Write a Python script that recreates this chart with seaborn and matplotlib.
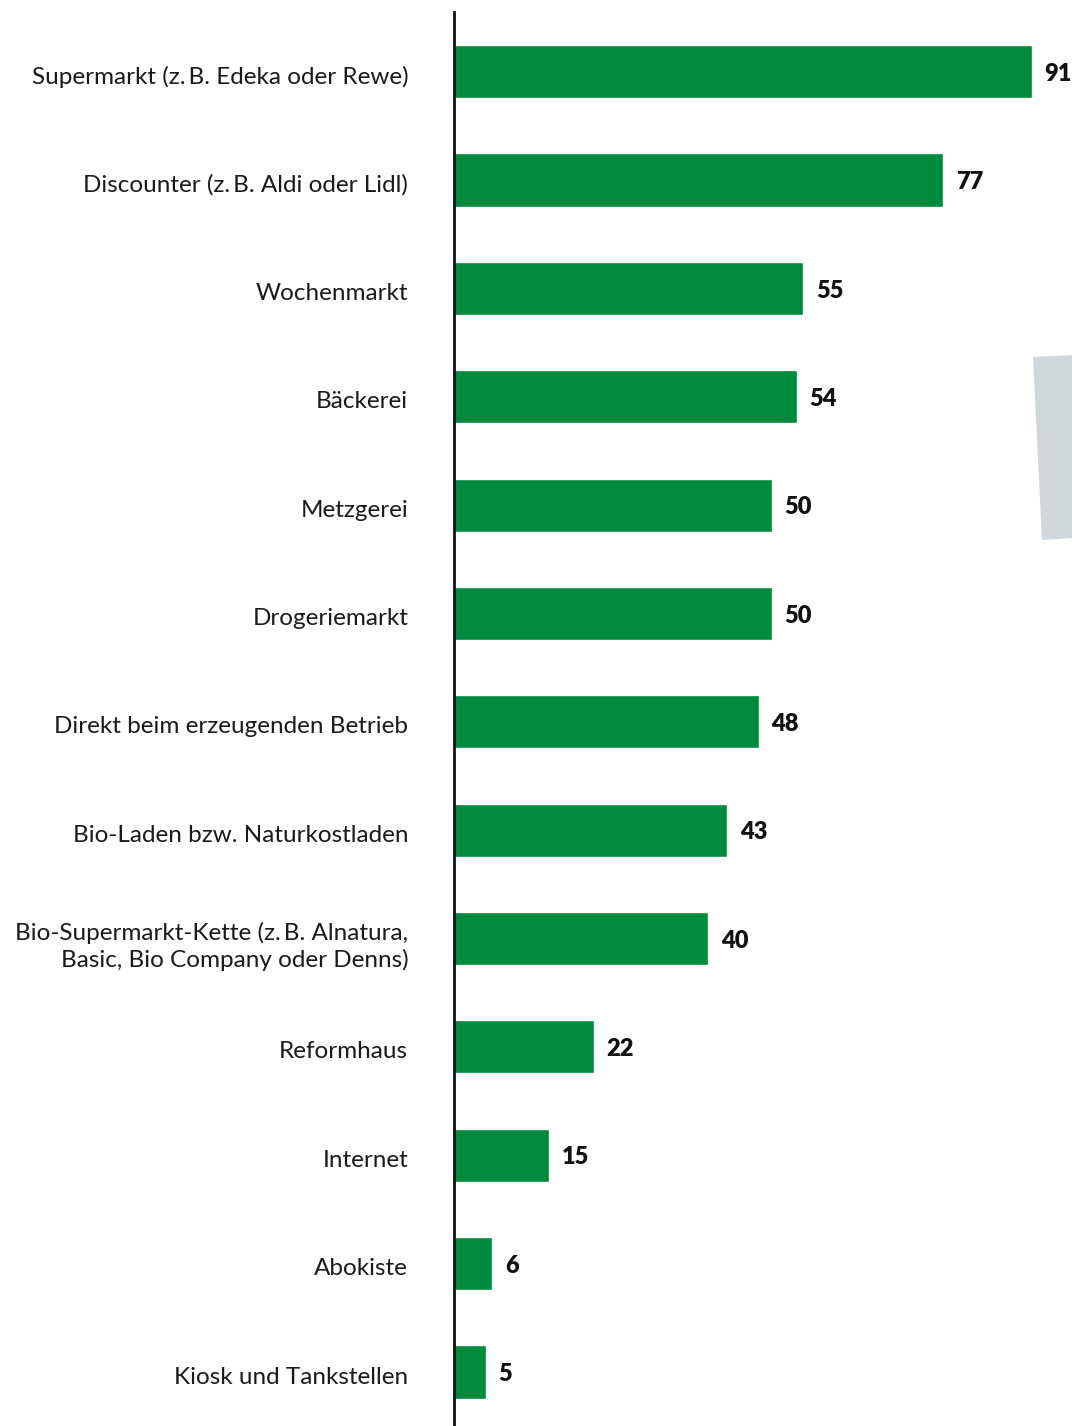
import matplotlib
matplotlib.use("Agg")
import matplotlib.pyplot as plt
import matplotlib.transforms as mtransforms
import seaborn as sns
import pandas as pd
from matplotlib.patches import Polygon

categories = [
    "Supermarkt (z.\u2009B. Edeka oder Rewe)",
    "Discounter (z.\u2009B. Aldi oder Lidl)",
    "Wochenmarkt",
    "Bäckerei",
    "Metzgerei",
    "Drogeriemarkt",
    "Direkt beim erzeugenden Betrieb",
    "Bio-Laden bzw. Naturkostladen",
    "Bio-Supermarkt-Kette (z.\u2009B. Alnatura,\nBasic, Bio Company oder Denns)",
    "Reformhaus",
    "Internet",
    "Abokiste",
    "Kiosk und Tankstellen",
]
values = [91, 77, 55, 54, 50, 50, 48, 43, 40, 22, 15, 6, 5]

df = pd.DataFrame({"cat": categories, "val": values})

sns.set_theme(style="white")
plt.rcParams["font.family"] = ["Lato", "DejaVu Sans"]

W, H = 1072, 1426
fig = plt.figure(figsize=(W / 100, H / 100), dpi=100)
ax = fig.add_axes([454 / W, 0, 1 - 454 / W, 1 - 12 / H])

sns.barplot(data=df, x="val", y="cat", color="#008a3e", saturation=1,
            width=0.49, ax=ax, orient="h")

ax.set_xlim(0, (W - 454) / 6.35)
ax.set_ylim(len(categories) - 1 + 0.498, -0.55)

for i, v in enumerate(values):
    ax.text(v + 2.0, i + 0.02, str(v), va="center", ha="left", fontsize=17,
            fontweight="heavy", color="#111111")

ax.set_xlabel("")
ax.set_ylabel("")
ax.set_xticks([])
ax.tick_params(axis="y", length=0, pad=33, labelsize=17.5, labelcolor="#1a1a1a")
shift = mtransforms.ScaledTranslation(0, -3 / 100, fig.dpi_scale_trans)
for lbl in ax.get_yticklabels():
    lbl.set_linespacing(1.3)
    lbl.set_transform(lbl.get_transform() + shift)
for s in ["top", "right", "bottom"]:
    ax.spines[s].set_visible(False)
ax.spines["left"].set_color("#111111")
ax.spines["left"].set_linewidth(2)

# decorative grey shape at right edge
poly = Polygon([[1033 / W, 1 - 357 / H], [1072 / W, 1 - 355 / H],
                [1072 / W, 1 - 538 / H], [1042 / W, 1 - 540 / H]],
               closed=True, transform=fig.transFigure, facecolor="#d0d8dc",
               edgecolor="none", zorder=0)
fig.patches.append(poly)

fig.savefig("out.png", dpi=100)
